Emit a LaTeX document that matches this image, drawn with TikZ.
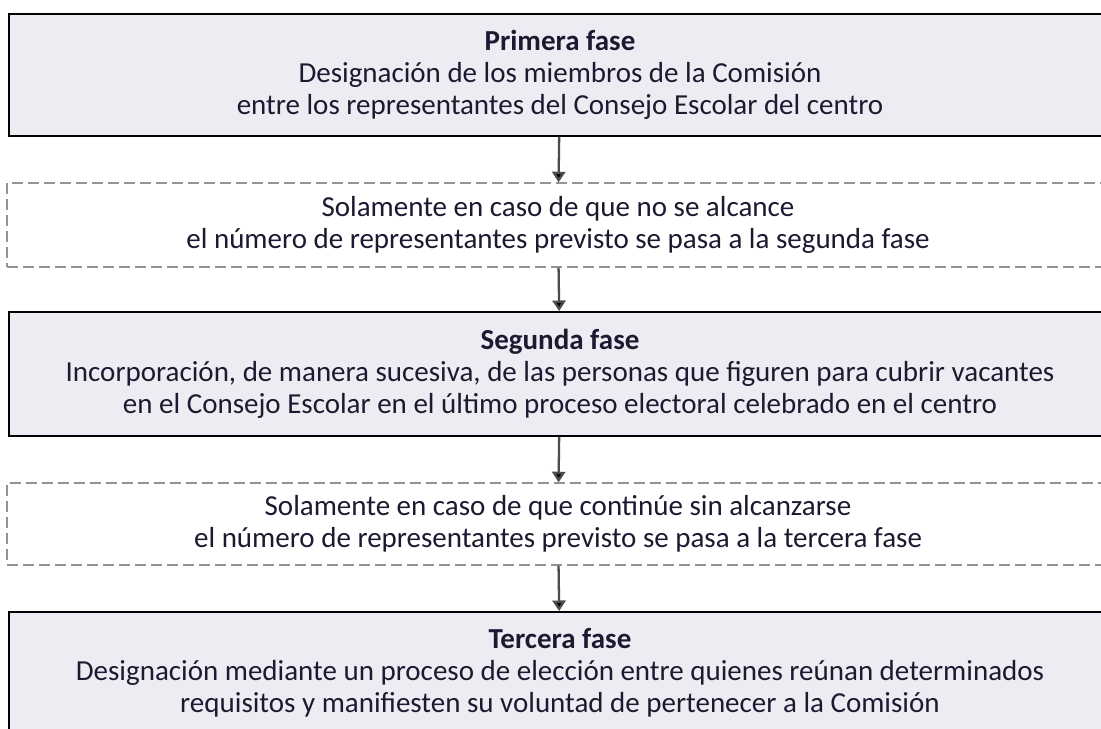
\documentclass[tikz,border=0pt]{standalone}
\usepackage{fontspec}
\setmainfont{Carlito}
\usetikzlibrary{arrows.meta}
\definecolor{fasefill}{HTML}{EEECF3}
\definecolor{textdark}{HTML}{1C1A30}
\begin{document}
\begin{tikzpicture}
        \clip (0,0) rectangle (22.02,-14.58);
        \fill[white] (0,0) rectangle (22.02,-14.58);

        \begin{scope}[every node/.style={text=textdark,font=\fontsize{16.5}{18.2}\selectfont,
            align=center,minimum width=22.04cm,inner sep=0pt}]
          \begin{scope}[every node/.append style={draw=black,line width=1.1pt,fill=fasefill}]
            \node[minimum height=2.44cm] (fase1) at (11.2,-1.50)
              {\textbf{Primera fase}\\Designación de los miembros de la Comisión\\entre los representantes del Consejo Escolar del centro};
            \node[minimum height=2.48cm] (fase2) at (11.2,-7.48)
              {\textbf{Segunda fase}\\Incorporación, de manera sucesiva, de las personas que figuren para cubrir vacantes\\en el Consejo Escolar en el último proceso electoral celebrado en el centro};
            \node[minimum height=2.44cm] (fase3) at (11.2,-13.46)
              {\textbf{Tercera fase}\\Designación mediante un proceso de elección entre quienes reúnan determinados\\requisitos y manifiesten su voluntad de pertenecer a la Comisión};
          \end{scope}
          \begin{scope}[every node/.append style={draw=gray!85,line width=0.8pt,
              dash pattern=on 0.22cm off 0.1cm,fill=white}]
            \node[minimum height=1.68cm] (caso1) at (11.16,-4.50)
              {Solamente en caso de que no se alcance\\el número de representantes previsto se pasa a la segunda fase};
            \node[minimum height=1.64cm] (caso2) at (11.16,-10.48)
              {Solamente en caso de que continúe sin alcanzarse\\el número de representantes previsto se pasa a la tercera fase};
          \end{scope}
        \end{scope}

        \begin{scope}[every path/.style={draw=black!70,line width=1.3pt,
            -{Triangle[width=7.5pt,length=6pt,fill=black]}}]
          \path (fase1) edge (caso1);
          \path (caso1) edge (fase2);
          \path (fase2) edge (caso2);
          \path (caso2) edge (fase3);
        \end{scope}

      \end{tikzpicture}
\end{document}
